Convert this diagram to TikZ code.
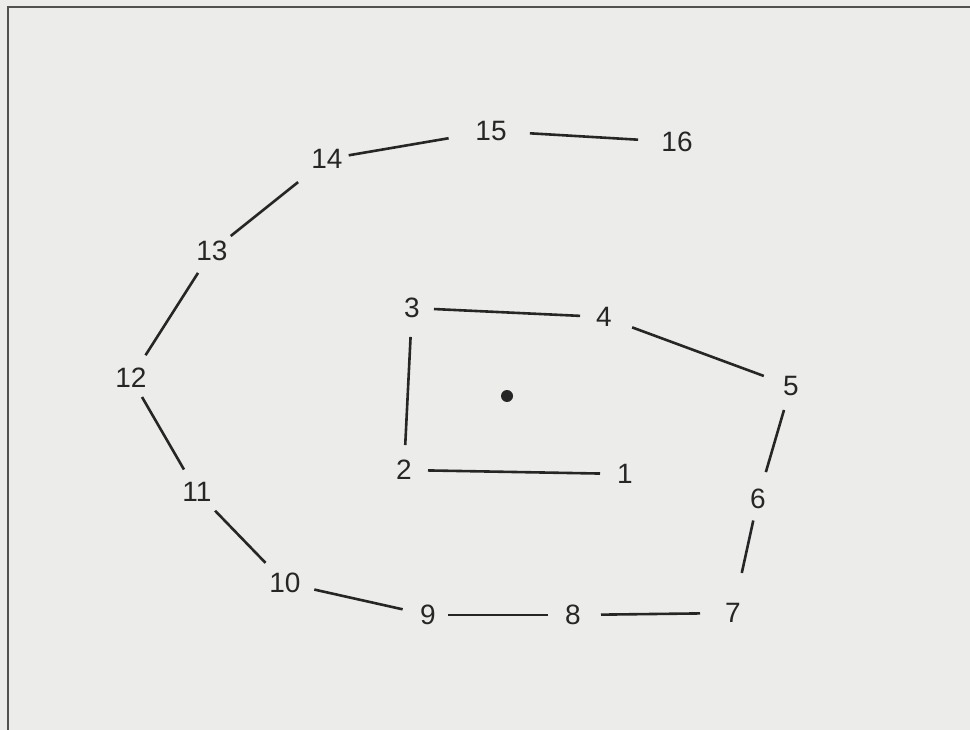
\documentclass[tikz,border=0pt]{standalone}
\usepackage{fontspec}
\setmainfont{Liberation Sans}
\definecolor{paper}{RGB}{236,236,234}
\definecolor{ink}{RGB}{38,38,38}
\begin{document}
\begin{tikzpicture}[x=1pt,y=-1pt,
  lbl/.style={inner sep=0pt, text=ink, font=\fontsize{28}{30}\selectfont},
  link/.style={draw=ink, line width=2.6pt}]
\useasboundingbox (0,0) rectangle (970,730);
\fill[paper] (0,0) rectangle (970,730);
\draw[ink!80, line width=2.2pt] (8,730) -- (8,7) -- (970,7);
% nodes
\node[lbl] (n1)  at (625,474) {1};
\node[lbl] (n2)  at (404,470) {2};
\node[lbl] (n3)  at (412,308) {3};
\node[lbl] (n4)  at (604,317) {4};
\node[lbl] (n5)  at (791,386) {5};
\node[lbl] (n6)  at (758,499) {6};
\node[lbl] (n7)  at (733,613) {7};
\node[lbl] (n8)  at (573,615) {8};
\node[lbl] (n9)  at (428,615) {9};
\node[lbl] (n10) at (285,583) {10};
\node[lbl] (n11) at (197,492) {11};
\node[lbl] (n12) at (131,378) {12};
\node[lbl] (n13) at (212,251) {13};
\node[lbl] (n14) at (327,159) {14};
\node[lbl] (n15) at (491,131) {15};
\node[lbl] (n16) at (677,142) {16};
\fill[ink] (507,396) circle (6);
% connectors
\draw[link, shorten <=25pt, shorten >=24pt] (n1.center) -- (n2.center);
\draw[link, shorten <=25pt, shorten >=29pt] (n2.center) -- (n3.center);
\draw[link, shorten <=22pt, shorten >=24pt] (n3.center) -- (n4.center);
\draw[link, shorten <=30pt, shorten >=29pt] (n4.center) -- (n5.center);
\draw[link, shorten <=25pt, shorten >=28pt] (n5.center) -- (n6.center);
\draw[link, shorten <=22pt, shorten >=41pt] (n6.center) -- (n7.center);
\draw[link, shorten <=33pt, shorten >=28pt] (n7.center) -- (n8.center);
\draw[link, shorten <=25pt, shorten >=20pt] (n8.center) -- (n9.center);
\draw[link, shorten <=26pt, shorten >=30pt] (n9.center) -- (n10.center);
\draw[link, shorten <=28pt, shorten >=26pt] (n10.center) -- (n11.center);
\draw[link, shorten <=26pt, shorten >=22pt] (n11.center) -- (n12.center);
\draw[link, shorten <=27pt, shorten >=26pt] (n12.center) -- (n13.center);
\draw[link, shorten <=24pt, shorten >=37pt] (n13.center) -- (n14.center);
\draw[link, shorten <=22pt, shorten >=43pt] (n14.center) -- (n15.center);
\draw[link, shorten <=39pt, shorten >=39pt] (n15.center) -- (n16.center);
\end{tikzpicture}
\end{document}
